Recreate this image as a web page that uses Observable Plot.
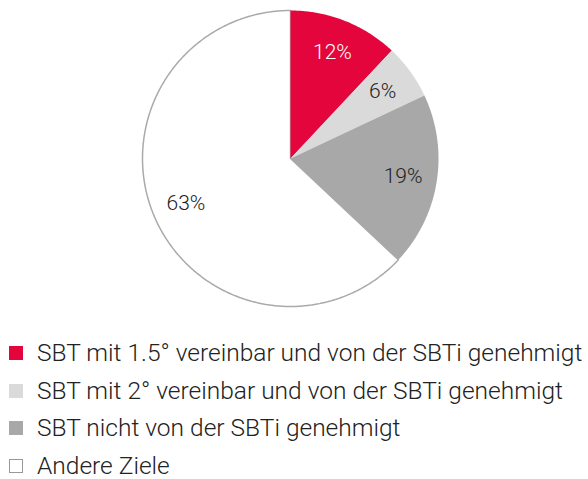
<!DOCTYPE html>
<html>
<head>
<meta charset="utf-8">
<script src="https://cdn.jsdelivr.net/npm/d3@7"></script>
<script src="https://cdn.jsdelivr.net/npm/@observablehq/plot@0.6"></script>
<style>
  body { margin: 0; background: #fff; font-family: Roboto, sans-serif; overflow: hidden; }
  #chart svg { display: block; }
  .legend { margin: 16px 0 0 9px; }
  .item { display: flex; align-items: center; height: 37.7px; font-size: 24.5px; color: #222; font-weight: 300; white-space: nowrap; }
  .item span { line-height: 1.05; }
  .sw { width: 14px; height: 14px; margin-right: 14px; box-sizing: border-box; flex: none; }
</style>
</head>
<body>
<div id="chart"></div>
<div class="legend" id="legend"></div>
<script>
const categories = [
  "SBT mit 1.5° vereinbar und von der SBTi genehmigt",
  "SBT mit 2° vereinbar und von der SBTi genehmigt",
  "SBT nicht von der SBTi genehmigt",
  "Andere Ziele"
];
const values = [12, 6, 19, 63];
const labels = ["12%", "6%", "19%", "63%"];
const colors = ["#e3053b", "#dadada", "#a8a8a8", "#ffffff"];
const labelColors = ["#ffffff", "#222222", "#222222", "#222222"];

const total = d3.sum(values);
const slices = [];
let acc = 0;
values.forEach((v, i) => {
  const a0 = acc / total * 2 * Math.PI;
  acc += v;
  const a1 = acc / total * 2 * Math.PI;
  slices.push({cat: categories[i], a0, a1, i});
});

const pts = [];
slices.forEach(s => {
  pts.push({cat: s.cat, x: 0, y: 0});
  const n = Math.max(2, Math.ceil((s.a1 - s.a0) / (Math.PI / 360)));
  for (let k = 0; k <= n; k++) {
    const a = s.a0 + (s.a1 - s.a0) * k / n;
    pts.push({cat: s.cat, x: Math.sin(a), y: Math.cos(a)});
  }
  pts.push({cat: s.cat, x: 0, y: 0});
});

const lab = slices.map(s => {
  const m = (s.a0 + s.a1) / 2;
  return {cat: s.cat, x: 0.77 * Math.sin(m), y: 0.77 * Math.cos(m), text: labels[s.i], c: labelColors[s.i]};
});

const order = [3, 0, 1, 2].map(i => categories[i]);
const ptsOrdered = order.flatMap(c => pts.filter(p => p.cat === c));

const plot = Plot.plot({
  width: 588,
  height: 318,
  marginLeft: 142,
  marginRight: 150,
  marginTop: 10,
  marginBottom: 12,
  x: {domain: [-1, 1], axis: null},
  y: {domain: [-1, 1], axis: null},
  color: {domain: categories, range: colors},
  marks: [
    Plot.line(ptsOrdered, {
      x: "x", y: "y", z: "cat", fill: "cat",
      stroke: d => d.cat === categories[3] ? "#aaaaaa" : "none",
      strokeWidth: 1.5, curve: "linear"
    }),
    Plot.text(lab, {
      x: "x", y: "y", text: "text", fill: "c",
      fontSize: 21, fontFamily: "Roboto, sans-serif", fontWeight: 300
    })
  ]
});
document.getElementById("chart").appendChild(plot);

const legend = document.getElementById("legend");
categories.forEach((c, i) => {
  const item = document.createElement("div");
  item.className = "item";
  const sw = document.createElement("div");
  sw.className = "sw";
  sw.style.background = colors[i];
  if (i === 3) sw.style.border = "1.5px solid #999";
  const t = document.createElement("span");
  t.textContent = c;
  item.appendChild(sw);
  item.appendChild(t);
  legend.appendChild(item);
});
</script>
</body>
</html>
